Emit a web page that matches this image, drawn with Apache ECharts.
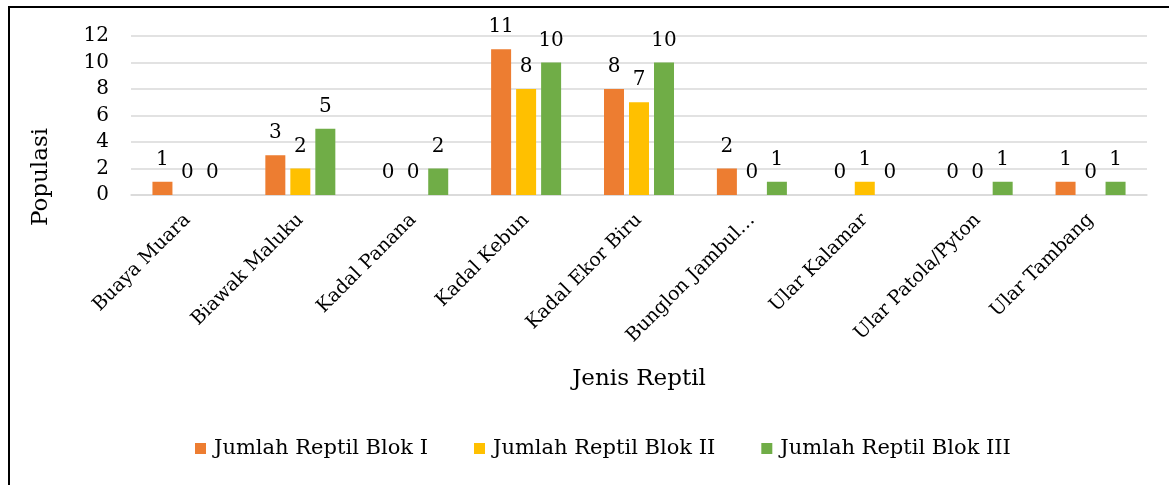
<!DOCTYPE html>
<html>
<head>
<meta charset="utf-8">
<script src="https://cdn.jsdelivr.net/npm/echarts@6/dist/echarts.min.js"></script>
<style>
  html, body { margin: 0; padding: 0; background: #fff; }
  #chart { width: 1169px; height: 485px; }
</style>
</head>
<body>
<div id="chart"></div>
<script>
// Reptile population per species in three survey blocks
const categories = ['Buaya Muara', 'Biawak Maluku', 'Kadal Panana', 'Kadal Kebun', 'Kadal Ekor Biru',
  'Bunglon Jambul…', 'Ular Kalamar', 'Ular Patola/Pyton', 'Ular Tambang'];
const blokI   = [1, 3, 0, 11, 8, 2, 0, 0, 1];
const blokII  = [0, 2, 0, 8, 7, 0, 1, 0, 0];
const blokIII = [0, 5, 2, 10, 10, 1, 0, 1, 1];
const seriesNames = ['Jumlah Reptil Blok I', 'Jumlah Reptil Blok II', 'Jumlah Reptil Blok III'];
const colors = ['#ED7D31', '#FFC000', '#70AD47'];

const FONT = 'DejaVu Serif';
const chart = echarts.init(document.getElementById('chart'), null, { renderer: 'canvas' });

const makeSeries = (name, data, color) => ({
  name: name,
  type: 'bar',
  data: data,
  barWidth: 20,
  barGap: '25%',
  itemStyle: { color: color },
  label: {
    show: true,
    position: 'top',
    distance: 12,
    color: '#000',
    fontFamily: FONT,
    fontSize: 20
  }
});

chart.setOption({
  animation: false,
  color: colors,
  grid: { left: 131, right: 22, top: 36, bottom: 290, containLabel: false },
  legend: {
    bottom: 21,
    left: 190,
    itemWidth: 11,
    itemHeight: 11,
    itemGap: 46,
    icon: 'rect',
    textStyle: { fontFamily: FONT, fontSize: 21, color: '#000', padding: [0, 0, 0, 3] },
    data: seriesNames
  },
  xAxis: {
    type: 'category',
    data: categories,
    name: 'Jenis Reptil',
    nameLocation: 'middle',
    nameGap: 173,
    nameTextStyle: { fontFamily: FONT, fontSize: 23, color: '#000' },
    axisLine: { lineStyle: { color: '#d9d9d9', width: 1.5 } },
    axisTick: { show: false },
    axisLabel: {
      interval: 0,
      rotate: 45,
      margin: 22,
      fontFamily: FONT,
      fontSize: 19,
      color: '#000'
    }
  },
  yAxis: {
    type: 'value',
    min: 0,
    max: 12,
    interval: 2,
    axisLine: { show: false },
    axisTick: { show: false },
    splitLine: { lineStyle: { color: '#d9d9d9', width: 1.5 } },
    axisLabel: { fontFamily: FONT, fontSize: 20, color: '#000', margin: 22 }
  },
  graphic: [
    {
      type: 'polyline',
      shape: { points: [[9, 490], [9, 7], [1175, 7]] },
      style: { stroke: '#000', lineWidth: 2, fill: null }
    },
    {
      type: 'text',
      x: 41,
      y: 177,
      rotation: Math.PI / 2,
      style: {
        text: 'Populasi',
        fontFamily: FONT,
        fontSize: 23,
        fill: '#000',
        align: 'center',
        verticalAlign: 'middle'
      }
    }
  ],
  series: [
    makeSeries(seriesNames[0], blokI, colors[0]),
    makeSeries(seriesNames[1], blokII, colors[1]),
    makeSeries(seriesNames[2], blokIII, colors[2])
  ]
});
</script>
</body>
</html>
